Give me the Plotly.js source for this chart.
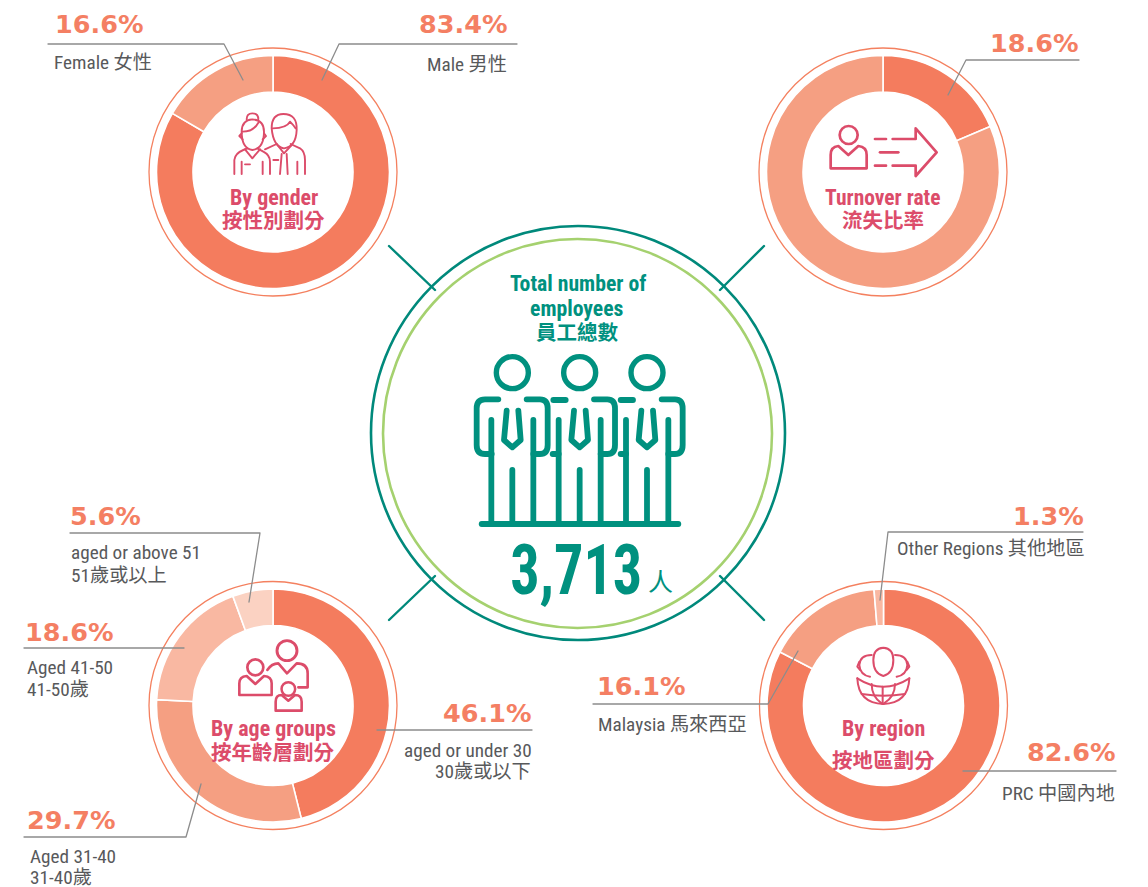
<!DOCTYPE html>
<html><head><meta charset="utf-8">
<script src="https://cdn.plot.ly/plotly-3.0.1.min.js"></script>
<style>html,body{margin:0;padding:0;background:#fff}#c{width:1148px;height:887px}
.shapelayer path{stroke-linecap:round;stroke-linejoin:round}</style></head>
<body><div id="c"></div>
<script>
// ---- data ----
const genderLabels=['Male 男性','Female 女性'];
const genderValues=[83.4,16.6];
const turnoverLabels=['Turnover','Retained'];
const turnoverValues=[18.6,81.4];
const ageLabels=['aged or under 30','Aged 31-40','Aged 41-50','aged or above 51'];
const ageValues=[46.1,29.7,18.6,5.6];
const regionLabels=['PRC 中國內地','Malaysia 馬來西亞','Other Regions 其他地區'];
const regionValues=[82.6,16.1,1.3];
const totalEmployees='3,713';
const pct=v=>v.toFixed(1)+'%';

// ---- styling ----
const W=1148,H=887;
const NARROW='"Roboto Condensed","Noto Sans CJK TC",sans-serif';
const CJK='"Noto Sans CJK TC","Roboto Condensed",sans-serif';
const PCTF='"DejaVu Sans",sans-serif';
const C1='#F47C5E',C2='#F59F82',C3='#F9B8A2',C4='#FBD2C2';
const PINK='#DC4C6A',TEAL='#00917F',RING='#00897B',GREEN='#A5D16F',GREY='#8C8C8C',TXT='#58595B',ORANGE='#F47F63';
const R=116.5,HOLE=80/116.5,RR=124;

function pie(cx,cy,labels,values,colors){
  return {type:'pie',labels,values,sort:false,direction:'clockwise',rotation:0,hole:HOLE,
    textinfo:'none',hoverinfo:'none',showlegend:false,
    marker:{colors,line:{color:'#ffffff',width:1.6}},
    domain:{x:[(cx-R)/W,(cx+R)/W],y:[1-(cy+R)/H,1-(cy-R)/H]}};
}
const traces=[
  pie(273,172,genderLabels,genderValues,[C1,C2]),
  pie(883,172,turnoverLabels,turnoverValues,[C1,C2]),
  pie(273,705.5,ageLabels,ageValues,[C1,C2,C3,C4]),
  pie(883.5,705.5,regionLabels,regionValues,[C1,C2,C3]),
];

// ---- helpers: pixel coordinates to paper fractions ----
const X=x=>x/W, Y=y=>1-y/H;
function path(d,ox,oy,k,color,width,fill){
  const s=d.replace(/(-?[\d.]+)[ ,](-?[\d.]+)/g,(m,a,b)=>X(ox+a*k)+','+Y(oy+b*k));
  const o={type:'path',xref:'paper',yref:'paper',path:s,line:{color,width}};
  if(fill)o.fillcolor=fill;
  return o;
}
function circ(cx,cy,r,color,width){
  return {type:'circle',xref:'paper',yref:'paper',x0:X(cx-r),x1:X(cx+r),y0:Y(cy+r),y1:Y(cy-r),line:{color,width}};
}
const shapes=[];
// rings
[[273,172],[883,172],[273,705.5],[883.5,705.5]].forEach(c=>shapes.push(circ(c[0],c[1],RR,'#F4805F',1.3)));
shapes.push(circ(578,433,207,RING,2.6));
shapes.push(circ(577.5,433.5,194.5,GREEN,2.6));
// connectors
[['389,246','435,290'],['764,246','720,290'],['389,620','435,576'],['764,620','720,576']].forEach(a=>
  shapes.push(path('M '+a[0]+' L '+a[1],0,0,1,RING,2.4)));
// leader lines
['M 48,44 L 224,44 L 243,80','M 517,44 L 339,44 L 322,80','M 1079,60 L 966,60 L 948,95',
 'M 70,533 L 260,533 L 249,602','M 24,648 L 184,648','M 532,730 L 377,730','M 24,837 L 186,837 L 201,784',
 'M 1083,532 L 888,532 L 880,600','M 593,704 L 768,704 L 798,651','M 1116,771 L 963,771'
].forEach(d=>shapes.push(path(d,0,0,1,GREY,1.3)));

// teal people icon (coordinates in 3x space)
const k=1/3, tx=370, ty=240, tw=5.8;
[427,629,831].forEach(c=>shapes.push(circ(tx+c*k,ty+398*k,16,TEAL,5.4)));
[
 'M 385,478 L 345,478 Q 320,478 320,505 L 320,615 Q 320,642 345,642 L 365,642',
 'M 364,540 L 364,850','M 490,540 L 490,850','M 427,690 L 427,850',
 'M 470,478 L 510,478 Q 533,478 533,505 L 533,615 Q 533,642 510,642 L 490,642',
 'M 410,512 L 402,600 L 427,622 L 452,600 L 445,512',
 'M 587,480 L 550,480','M 548,642 L 566,642','M 566,540 L 566,850','M 692,540 L 692,850','M 629,690 L 629,850',
 'M 672,478 L 712,478 Q 735,478 735,505 L 735,615 Q 735,642 712,642 L 692,642',
 'M 612,512 L 604,600 L 629,622 L 654,600 L 647,512',
 'M 789,480 L 752,480','M 752,642 L 768,642','M 768,540 L 768,850','M 895,540 L 895,850','M 831,690 L 831,850',
 'M 875,478 L 915,478 Q 938,478 938,505 L 938,615 Q 938,642 915,642 L 895,642',
 'M 814,512 L 806,600 L 831,622 L 856,600 L 849,512',
 'M 335,852 L 925,852'
].forEach(d=>shapes.push(path(d,tx,ty,k,TEAL,tw)));

// gender icon
[
 'M 305,395 Q 305,360 337,358 Q 372,360 372,395 Q 372,445 337,450 Q 305,445 305,395 Z',
 'M 320,358 Q 320,340 337,340 Q 355,340 355,358','M 308,395 Q 340,395 355,368',
 'M 305,400 L 298,408 L 308,418','M 372,400 L 378,408 L 368,418',
 'M 283,522 L 283,480 Q 285,460 310,450 L 322,445','M 352,445 L 370,455 Q 390,465 390,485 L 390,522',
 'M 315,448 L 337,475 L 360,448','M 305,522 L 305,485','M 368,522 L 368,485','M 315,493 L 330,493',
 'M 395,385 Q 395,342 430,342 Q 472,342 470,390 Q 468,440 432,445 Q 400,440 395,385 Z',
 'M 398,385 Q 440,385 450,365 Q 460,375 467,385',
 'M 375,448 L 410,432','M 452,432 L 480,445 Q 495,455 495,480 L 495,522',
 'M 410,432 L 432,460 L 455,435','M 425,462 L 420,522','M 440,462 L 443,522','M 472,522 L 472,485','M 400,480 L 415,480'
].forEach(d=>shapes.push(path(d,140,0,k,PINK,1.9)));

// turnover icon
shapes.push(circ(750+296*k,40+285*k,9,PINK,2.7));
[
 'M 242,345 Q 242,320 265,318 L 295,345 L 325,318 Q 350,320 350,345 L 350,385 L 242,385 Z',
 'M 375,297 L 408,297','M 428,297 L 497,297 L 497,265 L 560,337 L 497,408 L 497,377 L 428,377',
 'M 375,377 L 408,377','M 390,337 L 445,337'
].forEach(d=>shapes.push(path(d,750,40,k,PINK,2.7)));

// age icon
shapes.push(circ(140+441*k,580+212*k,10,PINK,2.9));
shapes.push(circ(140+346*k,580+262*k,8,PINK,2.7));
shapes.push(circ(140+445*k,580+327*k,6.8,PINK,2.5));
[
 'M 382,270 Q 395,250 415,250 L 441,280 L 470,250 Q 503,250 503,280 L 503,322 L 475,322',
 'M 298,345 L 298,310 Q 298,290 320,288 L 346,312 L 372,288 Q 395,290 395,310 L 395,345 Z',
 'M 407,392 L 407,365 Q 407,345 425,345 L 445,362 L 465,345 Q 485,345 485,365 L 485,392 Z'
].forEach(d=>shapes.push(path(d,140,580,k,PINK,2.6)));

// region icon
[
 'M 292,295 Q 295,370 370,372 Q 445,370 448,295','M 292,295 Q 370,345 448,295',
 'M 368,320 L 368,372','M 335,312 Q 335,350 365,370','M 405,312 Q 405,350 372,370','M 305,342 Q 370,352 435,342',
 'M 340,240 Q 340,205 370,203 Q 400,205 400,240 Q 400,280 370,288 Q 340,280 340,240 Z',
 'M 335,225 Q 300,225 298,255 Q 300,285 330,290','M 405,225 Q 440,225 442,255 Q 440,285 410,290',
 'M 298,245 L 292,260 L 300,270','M 442,245 L 448,260 L 440,270'
].forEach(d=>shapes.push(path(d,760,580,k,PINK,2)));

// ---- text ----
const annotations=[];
function T(text,x,y,anchor,family,size,color,weight){
  annotations.push({text,x:X(x),y:Y(y),xref:'paper',yref:'paper',xanchor:anchor,yanchor:'middle',
    showarrow:false,borderpad:0,align:anchor,font:{family,size,color,weight:weight||400}});
}
// centre titles
T('By gender',273.5,197,'center',NARROW,22,PINK,700);
T('按性別劃分',273.5,219,'center',CJK,20.5,PINK,700);
T('Turnover rate',882.5,197,'center',NARROW,21.5,PINK,700);
T('流失比率',883,219,'center',CJK,20.5,PINK,700);
T('By age groups',273,728,'center',NARROW,22,PINK,700);
T('按年齡層劃分',273,751,'center',CJK,20.5,PINK,700);
T('By region',883,728,'center',NARROW,22,PINK,700);
T('按地區劃分',883,759,'center',CJK,20.5,PINK,700);
T('Total number of',577.5,283,'center',NARROW,21.7,TEAL,700);
T('employees',577,308,'center',NARROW,21.7,TEAL,700);
T('員工總數',577,331,'center',CJK,20.5,TEAL,700);
T(totalEmployees,576,570,'center',NARROW,70,TEAL,700);
T('人',660,580,'center',CJK,25,TEAL,400);
// percentages
T(pct(genderValues[1]),54,24,'left',PCTF,25.5,ORANGE,700);
T(pct(genderValues[0]),508,24,'right',PCTF,25.5,ORANGE,700);
T(pct(turnoverValues[0]),1079,43,'right',PCTF,25.5,ORANGE,700);
T(pct(ageValues[3]),69,516,'left',PCTF,25.5,ORANGE,700);
T(pct(ageValues[2]),24,632,'left',PCTF,25.5,ORANGE,700);
T(pct(ageValues[0]),532,713,'right',PCTF,25.5,ORANGE,700);
T(pct(ageValues[1]),26,820,'left',PCTF,25.5,ORANGE,700);
T(pct(regionValues[2]),1085,516,'right',PCTF,25.5,ORANGE,700);
T(pct(regionValues[1]),596,686,'left',PCTF,25.5,ORANGE,700);
T(pct(regionValues[0]),1116,752,'right',PCTF,25.5,ORANGE,700);
// labels
const LS=19.2;
T(genderLabels[1],53,62,'left',NARROW,LS,TXT);
T(genderLabels[0],508,64,'right',NARROW,LS,TXT);
T(ageLabels[3],70,552,'left',NARROW,LS,TXT);
T('51歲或以上',70,575,'left',NARROW,LS,TXT);
T(ageLabels[2],26,667,'left',NARROW,LS,TXT);
T('41-50歲',26,689,'left',NARROW,LS,TXT);
T(ageLabels[0],533,750,'right',NARROW,LS,TXT);
T('30歲或以下',532,771,'right',NARROW,LS,TXT);
T(ageLabels[1],29,856,'left',NARROW,LS,TXT);
T('31-40歲',29,877,'left',NARROW,LS,TXT);
T(regionLabels[2],1086,548,'right',NARROW,LS,TXT);
T(regionLabels[1],597,724,'left',NARROW,LS,TXT);
T(regionLabels[0],1116,793,'right',NARROW,LS,TXT);

Plotly.newPlot('c',traces,{width:W,height:H,margin:{l:0,r:0,t:0,b:0},
  paper_bgcolor:'#ffffff',shapes,annotations},{displayModeBar:false,staticPlot:true}).then(gd=>{
  // the total's typeface is narrower than any installed font: fit its real text to the reference width
  gd.querySelectorAll('text.annotation-text').forEach(t=>{
    if(t.textContent===totalEmployees){t.setAttribute('textLength','132');t.setAttribute('lengthAdjust','spacingAndGlyphs');}
  });
});
</script></body></html>
